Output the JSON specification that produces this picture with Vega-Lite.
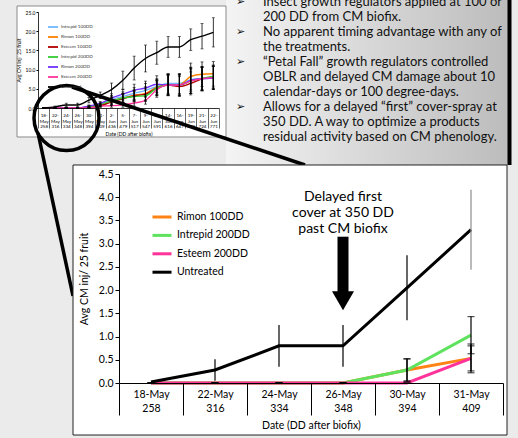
{
 "$schema": "https://vega.github.io/schema/vega-lite/v6.json",
 "autosize": {"type": "none"},
 "padding": {"left": 38, "top": 12, "right": 480, "bottom": 426},
 "background": "#ebebeb",
 "config": {
  "font": "Lato",
  "view": {"stroke": null},
  "axis": {"domainColor": "#000", "tickColor": "#000", "labelColor": "#000", "titleColor": "#000", "titleFontWeight": "normal", "grid": false, "labelFont": "Lato", "titleFont": "Lato"},
  "legend": {"labelFont": "Lato"}
 },
 "resolve": {"scale": {"color": "independent"}, "legend": {"color": "independent"}},
 "spacing": 162,
 "bounds": "flush",
 "vconcat": [
  {"spacing": 17, "bounds": "flush", "resolve": {"scale": {"color": "independent"}, "legend": {"color": "independent"}}, "hconcat": [
  {
   "width": 181, "height": 96,
   "resolve": {"scale": {"x": "independent"}},
   "layer": [
    {"data": {"values": [{}]},
     "mark": {"type": "rect", "fill": {"gradient": "linear", "x1": 0, "y1": 0, "x2": 1, "y2": 0, "stops": [{"offset": 0, "color": "#f4f4f4"}, {"offset": 1, "color": "#bcbcbc"}]}},
     "encoding": {"x": {"datum": 16.62, "type": "quantitative", "scale": {"domain": [0, 16], "nice": false, "zero": false}, "axis": null}, "x2": {"datum": 41.64},
                  "y": {"datum": 28.125, "type": "quantitative", "title": "Avg CM Inj/ 25 fruit", "scale": {"domain": [0, 25], "nice": false}, "axis": {"zindex": 2, "title": "Avg CM Inj/ 25 fruit", "values": [0, 5, 10, 15, 20, 25], "tickCount": 6, "format": ".1f", "labelOverlap": false, "labelFontSize": 5, "tickSize": 2, "labelPadding": 1, "titleFontSize": 5, "titlePadding": 4, "domainWidth": 0.8}}, "y2": {"datum": -14.84}}},
    {"data": {"values": [{}]},
     "mark": {"type": "rect", "fill": "#ffffff", "stroke": "#8a8a8a", "strokeWidth": 1},
     "encoding": {"x": {"datum": -1.856, "type": "quantitative", "scale": {"domain": [0, 16], "nice": false, "zero": false}, "axis": null}, "x2": {"datum": 16.62},
                  "y": {"datum": 26.56, "type": "quantitative", "title": "Avg CM Inj/ 25 fruit", "scale": {"domain": [0, 25], "nice": false}, "axis": {"zindex": 2, "title": "Avg CM Inj/ 25 fruit", "values": [0, 5, 10, 15, 20, 25], "tickCount": 6, "format": ".1f", "labelOverlap": false, "labelFontSize": 5, "tickSize": 2, "labelPadding": 1, "titleFontSize": 5, "titlePadding": 4, "domainWidth": 0.8}}, "y2": {"datum": -7.55}}},
    {"data": {"values": [
      {"d":"18-May 258","s":"Intrepid 100DD","v":0,"e":0},{"d":"22-May 316","s":"Intrepid 100DD","v":0,"e":0},{"d":"24-May 334","s":"Intrepid 100DD","v":0,"e":0},{"d":"26-May 348","s":"Intrepid 100DD","v":0,"e":0},{"d":"30-May 394","s":"Intrepid 100DD","v":0.3,"e":0.25},{"d":"31-May 409","s":"Intrepid 100DD","v":0.8,"e":0.4},{"d":"2-Jun 436","s":"Intrepid 100DD","v":2.2,"e":1.0},{"d":"5-Jun 479","s":"Intrepid 100DD","v":3.0,"e":1.2},{"d":"7-Jun 517","s":"Intrepid 100DD","v":3.8,"e":1.5},{"d":"9-Jun 547","s":"Intrepid 100DD","v":4.6,"e":1.8},{"d":"12-Jun 591","s":"Intrepid 100DD","v":5.6,"e":2.0},{"d":"14-Jun 616","s":"Intrepid 100DD","v":6.4,"e":2.6},{"d":"16-Jun 647","s":"Intrepid 100DD","v":6.4,"e":2.6},{"d":"19-Jun 690","s":"Intrepid 100DD","v":7.4,"e":3.2},{"d":"21-Jun 724","s":"Intrepid 100DD","v":7.7,"e":3.0},{"d":"22-Jun 771","s":"Intrepid 100DD","v":7.9,"e":3.0},
      {"d":"18-May 258","s":"Rimon 100DD","v":0,"e":0},{"d":"22-May 316","s":"Rimon 100DD","v":0,"e":0},{"d":"24-May 334","s":"Rimon 100DD","v":0,"e":0},{"d":"26-May 348","s":"Rimon 100DD","v":0,"e":0},{"d":"30-May 394","s":"Rimon 100DD","v":0.28,"e":0.24},{"d":"31-May 409","s":"Rimon 100DD","v":0.53,"e":0.27},{"d":"2-Jun 436","s":"Rimon 100DD","v":1.8,"e":1.0},{"d":"5-Jun 479","s":"Rimon 100DD","v":2.6,"e":1.2},{"d":"7-Jun 517","s":"Rimon 100DD","v":3.3,"e":1.4},{"d":"9-Jun 547","s":"Rimon 100DD","v":3.8,"e":1.7},{"d":"12-Jun 591","s":"Rimon 100DD","v":5.4,"e":2.0},{"d":"14-Jun 616","s":"Rimon 100DD","v":6.0,"e":2.8},{"d":"16-Jun 647","s":"Rimon 100DD","v":6.0,"e":2.8},{"d":"19-Jun 690","s":"Rimon 100DD","v":8.2,"e":3.5},{"d":"21-Jun 724","s":"Rimon 100DD","v":8.8,"e":3.2},{"d":"22-Jun 771","s":"Rimon 100DD","v":8.9,"e":3.2},
      {"d":"18-May 258","s":"Esteem 100DD","v":0,"e":0},{"d":"22-May 316","s":"Esteem 100DD","v":0,"e":0},{"d":"24-May 334","s":"Esteem 100DD","v":0,"e":0},{"d":"26-May 348","s":"Esteem 100DD","v":0,"e":0},{"d":"30-May 394","s":"Esteem 100DD","v":0.2,"e":0.2},{"d":"31-May 409","s":"Esteem 100DD","v":0.6,"e":0.3},{"d":"2-Jun 436","s":"Esteem 100DD","v":1.6,"e":0.9},{"d":"5-Jun 479","s":"Esteem 100DD","v":2.4,"e":1.1},{"d":"7-Jun 517","s":"Esteem 100DD","v":3.2,"e":1.4},{"d":"9-Jun 547","s":"Esteem 100DD","v":3.6,"e":1.6},{"d":"12-Jun 591","s":"Esteem 100DD","v":5.2,"e":2.0},{"d":"14-Jun 616","s":"Esteem 100DD","v":6.0,"e":2.6},{"d":"16-Jun 647","s":"Esteem 100DD","v":5.6,"e":2.6},{"d":"19-Jun 690","s":"Esteem 100DD","v":6.4,"e":3.0},{"d":"21-Jun 724","s":"Esteem 100DD","v":7.6,"e":3.0},{"d":"22-Jun 771","s":"Esteem 100DD","v":8.0,"e":3.0},
      {"d":"18-May 258","s":"Intrepid 200DD","v":0,"e":0},{"d":"22-May 316","s":"Intrepid 200DD","v":0,"e":0},{"d":"24-May 334","s":"Intrepid 200DD","v":0,"e":0},{"d":"26-May 348","s":"Intrepid 200DD","v":0,"e":0},{"d":"30-May 394","s":"Intrepid 200DD","v":0.28,"e":0.24},{"d":"31-May 409","s":"Intrepid 200DD","v":1.03,"e":0.4},{"d":"2-Jun 436","s":"Intrepid 200DD","v":1.8,"e":1.0},{"d":"5-Jun 479","s":"Intrepid 200DD","v":2.6,"e":1.2},{"d":"7-Jun 517","s":"Intrepid 200DD","v":3.0,"e":1.3},{"d":"9-Jun 547","s":"Intrepid 200DD","v":3.2,"e":1.5},{"d":"12-Jun 591","s":"Intrepid 200DD","v":5.2,"e":2.0},{"d":"14-Jun 616","s":"Intrepid 200DD","v":6.0,"e":2.6},{"d":"16-Jun 647","s":"Intrepid 200DD","v":6.0,"e":2.6},{"d":"19-Jun 690","s":"Intrepid 200DD","v":7.0,"e":3.2},{"d":"21-Jun 724","s":"Intrepid 200DD","v":7.7,"e":3.0},{"d":"22-Jun 771","s":"Intrepid 200DD","v":8.2,"e":3.0},
      {"d":"18-May 258","s":"Rimon 200DD","v":0,"e":0},{"d":"22-May 316","s":"Rimon 200DD","v":0,"e":0},{"d":"24-May 334","s":"Rimon 200DD","v":0,"e":0},{"d":"26-May 348","s":"Rimon 200DD","v":0,"e":0},{"d":"30-May 394","s":"Rimon 200DD","v":0.5,"e":0.3},{"d":"31-May 409","s":"Rimon 200DD","v":1.2,"e":0.5},{"d":"2-Jun 436","s":"Rimon 200DD","v":2.6,"e":1.1},{"d":"5-Jun 479","s":"Rimon 200DD","v":3.6,"e":1.3},{"d":"7-Jun 517","s":"Rimon 200DD","v":4.6,"e":1.6},{"d":"9-Jun 547","s":"Rimon 200DD","v":5.2,"e":1.8},{"d":"12-Jun 591","s":"Rimon 200DD","v":6.2,"e":2.2},{"d":"14-Jun 616","s":"Rimon 200DD","v":6.0,"e":2.8},{"d":"16-Jun 647","s":"Rimon 200DD","v":6.0,"e":2.8},{"d":"19-Jun 690","s":"Rimon 200DD","v":7.2,"e":3.4},{"d":"21-Jun 724","s":"Rimon 200DD","v":7.6,"e":3.2},{"d":"22-Jun 771","s":"Rimon 200DD","v":7.8,"e":3.0},
      {"d":"18-May 258","s":"Esteem 200DD","v":0,"e":0},{"d":"22-May 316","s":"Esteem 200DD","v":0,"e":0},{"d":"24-May 334","s":"Esteem 200DD","v":0,"e":0},{"d":"26-May 348","s":"Esteem 200DD","v":0,"e":0},{"d":"30-May 394","s":"Esteem 200DD","v":0,"e":0},{"d":"31-May 409","s":"Esteem 200DD","v":0.53,"e":0.31},{"d":"2-Jun 436","s":"Esteem 200DD","v":0.6,"e":0.4},{"d":"5-Jun 479","s":"Esteem 200DD","v":0.8,"e":0.6},{"d":"7-Jun 517","s":"Esteem 200DD","v":1.3,"e":0.8},{"d":"9-Jun 547","s":"Esteem 200DD","v":2.0,"e":1.0},{"d":"12-Jun 591","s":"Esteem 200DD","v":4.8,"e":2.0},{"d":"14-Jun 616","s":"Esteem 200DD","v":6.0,"e":2.6},{"d":"16-Jun 647","s":"Esteem 200DD","v":6.0,"e":2.6},{"d":"19-Jun 690","s":"Esteem 200DD","v":7.0,"e":3.2},{"d":"21-Jun 724","s":"Esteem 200DD","v":7.6,"e":3.0},{"d":"22-Jun 771","s":"Esteem 200DD","v":7.9,"e":3.0},
      {"d":"18-May 258","s":"Untreated","v":0.02,"e":0},{"d":"22-May 316","s":"Untreated","v":0.28,"e":0.23},{"d":"24-May 334","s":"Untreated","v":0.8,"e":0.45},{"d":"26-May 348","s":"Untreated","v":0.8,"e":0.45},{"d":"30-May 394","s":"Untreated","v":2.05,"e":0.7},{"d":"31-May 409","s":"Untreated","v":3.3,"e":0.86},{"d":"2-Jun 436","s":"Untreated","v":4.8,"e":1.7},{"d":"5-Jun 479","s":"Untreated","v":7.2,"e":2.4},{"d":"7-Jun 517","s":"Untreated","v":10.4,"e":3.1},{"d":"9-Jun 547","s":"Untreated","v":12.9,"e":3.5},{"d":"12-Jun 591","s":"Untreated","v":14.4,"e":3.0},{"d":"14-Jun 616","s":"Untreated","v":15.9,"e":2.7},{"d":"16-Jun 647","s":"Untreated","v":15.9,"e":2.7},{"d":"19-Jun 690","s":"Untreated","v":17.8,"e":2.8},{"d":"21-Jun 724","s":"Untreated","v":18.7,"e":3.3},{"d":"22-Jun 771","s":"Untreated","v":19.7,"e":3.8}
     ]},
     "layer": [
      {"mark": {"type": "line", "strokeWidth": 1.4, "interpolate": "monotone"},
       "encoding": {
        "x": {"field": "d", "type": "nominal", "sort": null, "bandPosition": 0.5, "title": "Date (DD after biofix)",
              "scale": {"type": "band", "paddingInner": 0, "paddingOuter": 0, "domain": ["18-May 258","22-May 316","24-May 334","26-May 348","30-May 394","31-May 409","2-Jun 436","5-Jun 479","7-Jun 517","9-Jun 547","12-Jun 591","14-Jun 616","16-Jun 647","19-Jun 690","21-Jun 724","22-Jun 771"]},
              "axis": {"zindex": 2, "title": "Date (DD after biofix)", "labelExpr": "split(replace(datum.label, '-', '- '), ' ')", "labelAngle": 0, "labelFontSize": 4.6, "labelLineHeight": 5.5, "labelOverlap": false, "tickBand": "extent", "tickSize": 20, "labelPadding": -15.5, "titleFontSize": 5, "titlePadding": 3, "tickWidth": 0.6, "domainWidth": 0.8}},
        "y": {"field": "v", "type": "quantitative", "title": "Avg CM Inj/ 25 fruit", "scale": {"domain": [0, 25], "nice": false},
              "axis": {"zindex": 2, "title": "Avg CM Inj/ 25 fruit", "values": [0, 5, 10, 15, 20, 25], "tickCount": 6, "format": ".1f", "labelOverlap": false, "labelFontSize": 5, "tickSize": 2, "labelPadding": 1, "titleFontSize": 5, "titlePadding": 4, "domainWidth": 0.8}},
        "color": {"field": "s", "type": "nominal",
                  "scale": {"domain": ["Intrepid 100DD","Rimon 100DD","Esteem 100DD","Intrepid 200DD","Rimon 200DD","Esteem 200DD","Untreated"], "range": ["#6fb8ff","#ff8000","#b00000","#33cc33","#7030ff","#ff3399","#000000"]},
                  "legend": {"zindex": 2, "title": null, "orient": "top-left", "offset": 9, "padding": 0, "symbolType": "stroke", "symbolSize": 100, "symbolStrokeWidth": 1.8, "labelFontSize": 4.6, "labelOffset": 2, "rowPadding": -3, "labelColor": "#333"}}
       }},
      {"mark": {"type": "errorbar", "ticks": true, "size": 3, "thickness": 0.8, "color": "#000"},
       "encoding": {
        "x": {"field": "d", "type": "nominal", "sort": null, "title": "Date (DD after biofix)", "scale": {"domain": ["18-May 258","22-May 316","24-May 334","26-May 348","30-May 394","31-May 409","2-Jun 436","5-Jun 479","7-Jun 517","9-Jun 547","12-Jun 591","14-Jun 616","16-Jun 647","19-Jun 690","21-Jun 724","22-Jun 771"]}},
        "y": {"field": "v", "type": "quantitative", "title": "Avg CM Inj/ 25 fruit", "scale": {"domain": [0, 25], "nice": false}, "axis": {"zindex": 2, "title": "Avg CM Inj/ 25 fruit", "values": [0, 5, 10, 15, 20, 25], "tickCount": 6, "format": ".1f", "labelOverlap": false, "labelFontSize": 5, "tickSize": 2, "labelPadding": 1, "titleFontSize": 5, "titlePadding": 4, "domainWidth": 0.8}},
        "yError": {"field": "e"}
       }}
     ]},
    {"data": {"values": [{}]},
     "mark": {"type": "point", "shape": "circle", "filled": false, "color": "#000", "strokeWidth": 3.5, "size": 4225, "opacity": 1},
     "encoding": {"x": {"datum": 2.52, "type": "quantitative", "scale": {"domain": [0, 16], "nice": false, "zero": false}, "axis": null},
                  "y": {"datum": -2.6, "type": "quantitative", "title": "Avg CM Inj/ 25 fruit", "scale": {"domain": [0, 25], "nice": false}, "axis": {"zindex": 2, "title": "Avg CM Inj/ 25 fruit", "values": [0, 5, 10, 15, 20, 25], "tickCount": 6, "format": ".1f", "labelOverlap": false, "labelFontSize": 5, "tickSize": 2, "labelPadding": 1, "titleFontSize": 5, "titlePadding": 4, "domainWidth": 0.8}}}},
    {"data": {"values": [{}]},
     "mark": {"type": "rule", "color": "#000", "strokeWidth": 3.5},
     "encoding": {"x": {"datum": 3.006, "type": "quantitative", "scale": {"domain": [0, 16], "nice": false, "zero": false}, "axis": null}, "x2": {"datum": 23.6},
                  "y": {"datum": 5.47, "type": "quantitative", "title": "Avg CM Inj/ 25 fruit", "scale": {"domain": [0, 25], "nice": false}, "axis": {"zindex": 2, "title": "Avg CM Inj/ 25 fruit", "values": [0, 5, 10, 15, 20, 25], "tickCount": 6, "format": ".1f", "labelOverlap": false, "labelFontSize": 5, "tickSize": 2, "labelPadding": 1, "titleFontSize": 5, "titlePadding": 4, "domainWidth": 0.8}}, "y2": {"datum": -14.84}}},
    {"data": {"values": [{}]},
     "mark": {"type": "rule", "color": "#000", "strokeWidth": 3.5},
     "encoding": {"x": {"datum": 0, "type": "quantitative", "scale": {"domain": [0, 16], "nice": false, "zero": false}, "axis": null}, "x2": {"datum": 3.094},
                  "y": {"datum": -6.51, "type": "quantitative", "title": "Avg CM Inj/ 25 fruit", "scale": {"domain": [0, 25], "nice": false}, "axis": {"zindex": 2, "title": "Avg CM Inj/ 25 fruit", "values": [0, 5, 10, 15, 20, 25], "tickCount": 6, "format": ".1f", "labelOverlap": false, "labelFontSize": 5, "tickSize": 2, "labelPadding": 1, "titleFontSize": 5, "titlePadding": 4, "domainWidth": 0.8}}, "y2": {"datum": -48.96}}},
    {"data": {"values": [{}]},
     "mark": {"type": "rule", "color": "#000", "strokeWidth": 4},
     "encoding": {"x": {"datum": 41.68, "type": "quantitative", "scale": {"domain": [0, 16], "nice": false, "zero": false}, "axis": null},
                  "y": {"datum": 28.125, "type": "quantitative", "title": "Avg CM Inj/ 25 fruit", "scale": {"domain": [0, 25], "nice": false}, "axis": {"zindex": 2, "title": "Avg CM Inj/ 25 fruit", "values": [0, 5, 10, 15, 20, 25], "tickCount": 6, "format": ".1f", "labelOverlap": false, "labelFontSize": 5, "tickSize": 2, "labelPadding": 1, "titleFontSize": 5, "titlePadding": 4, "domainWidth": 0.8}}, "y2": {"datum": -14.84}}}
   ]
  },
  {
   "width": 27, "height": 96,
   "data": {"values": [
    {"line": 0, "kind": "bullet", "t": "➢"},
    {"line": 0, "kind": "text", "t": "Insect growth regulators applied at 100 or"},
    {"line": 1, "kind": "text", "t": "200 DD from CM biofix."},
    {"line": 2, "kind": "bullet", "t": "➢"},
    {"line": 2, "kind": "text", "t": "No apparent timing advantage with any of"},
    {"line": 3, "kind": "text", "t": "the treatments."},
    {"line": 4, "kind": "bullet", "t": "➢"},
    {"line": 4, "kind": "text", "t": "“Petal Fall” growth regulators controlled"},
    {"line": 5, "kind": "text", "t": "OBLR and delayed CM damage about 10"},
    {"line": 6, "kind": "text", "t": "calendar-days or 100 degree-days."},
    {"line": 7, "kind": "bullet", "t": "➢"},
    {"line": 7, "kind": "text", "t": "Allows for a delayed “first” cover-spray at"},
    {"line": 8, "kind": "text", "t": "350 DD.  A way to optimize a products"},
    {"line": 9, "kind": "text", "t": "residual activity based on CM phenology."}
   ]},
   "encoding": {
    "x": {"field": "kind", "type": "nominal", "scale": {"type": "point", "domain": ["bullet", "text"], "padding": 0}, "axis": null},
    "y": {"field": "line", "type": "quantitative", "scale": {"domain": [0.695, 7.053], "reverse": true, "nice": false, "zero": false}, "axis": null},
    "text": {"field": "t"}
   },
   "layer": [
    {"transform": [{"filter": "datum.kind === 'bullet'"}],
     "mark": {"type": "text", "align": "left", "baseline": "middle", "font": "DejaVu Sans", "fontSize": 11, "color": "#111"}},
    {"transform": [{"filter": "datum.kind === 'text'"}],
     "mark": {"type": "text", "align": "left", "baseline": "middle", "fontSize": 13, "color": "#111"}}
   ]
  }
  ]},
  {"spacing": 17, "bounds": "flush", "resolve": {"scale": {"color": "independent"}, "legend": {"color": "independent"}}, "hconcat": [
  {
   "width": 64, "height": 209,
   "data": {"values": [{}]},
   "mark": {"type": "text", "text": ""}
  },
  {
   "width": 384, "height": 209,
   "resolve": {"scale": {"x": "independent"}},
   "layer": [
    {"data": {"values": [{}]},
     "mark": {"type": "rect", "fill": "#ffffff", "stroke": "#222222", "strokeWidth": 1},
     "encoding": {"x": {"datum": -0.71875, "type": "quantitative", "scale": {"domain": [0, 6], "nice": false, "zero": false}, "axis": null}, "x2": {"datum": 6.0625},
                  "y": {"datum": 4.694, "type": "quantitative", "title": "Avg CM inj/ 25 fruit", "scale": {"domain": [0, 4.5], "nice": false}, "axis": {"zindex": 2, "title": "Avg CM inj/ 25 fruit", "values": [0, 0.5, 1, 1.5, 2, 2.5, 3, 3.5, 4, 4.5], "tickCount": 10, "format": ".1f", "labelOverlap": false, "labelFlush": false, "tickSize": 4, "labelPadding": 2, "labelFontSize": 10.5, "titleFontSize": 10.5, "titlePadding": 9}}, "y2": {"datum": -1.12}}},
    {"data": {"values": [
      {"d":"18-May 258","s":"Rimon 100DD","v":0,"e":0},{"d":"22-May 316","s":"Rimon 100DD","v":0,"e":0},{"d":"24-May 334","s":"Rimon 100DD","v":0,"e":0},{"d":"26-May 348","s":"Rimon 100DD","v":0,"e":0},{"d":"30-May 394","s":"Rimon 100DD","v":0.28,"e":0.24},{"d":"31-May 409","s":"Rimon 100DD","v":0.53,"e":0.27},
      {"d":"18-May 258","s":"Intrepid 200DD","v":0,"e":0},{"d":"22-May 316","s":"Intrepid 200DD","v":0,"e":0},{"d":"24-May 334","s":"Intrepid 200DD","v":0,"e":0},{"d":"26-May 348","s":"Intrepid 200DD","v":0,"e":0},{"d":"30-May 394","s":"Intrepid 200DD","v":0.28,"e":0.24},{"d":"31-May 409","s":"Intrepid 200DD","v":1.03,"e":0.4},
      {"d":"18-May 258","s":"Esteem 200DD","v":0,"e":0},{"d":"22-May 316","s":"Esteem 200DD","v":0,"e":0},{"d":"24-May 334","s":"Esteem 200DD","v":0,"e":0},{"d":"26-May 348","s":"Esteem 200DD","v":0,"e":0},{"d":"30-May 394","s":"Esteem 200DD","v":0,"e":0},{"d":"31-May 409","s":"Esteem 200DD","v":0.53,"e":0.31},
      {"d":"18-May 258","s":"Untreated","v":0.02,"e":0},{"d":"22-May 316","s":"Untreated","v":0.28,"e":0.23},{"d":"24-May 334","s":"Untreated","v":0.8,"e":0.45},{"d":"26-May 348","s":"Untreated","v":0.8,"e":0.45},{"d":"30-May 394","s":"Untreated","v":2.05,"e":0.7},{"d":"31-May 409","s":"Untreated","v":3.3,"e":0.86}
     ]},
     "layer": [
      {"mark": {"type": "line", "strokeWidth": 3},
       "encoding": {
        "x": {"field": "d", "type": "nominal", "sort": null, "bandPosition": 0.5, "title": "Date (DD after biofix)",
              "scale": {"type": "band", "paddingInner": 0, "paddingOuter": 0, "domain": ["18-May 258","22-May 316","24-May 334","26-May 348","30-May 394","31-May 409"]},
              "axis": {"zindex": 2, "title": "Date (DD after biofix)", "labelExpr": "split(datum.label, ' ')", "labelAngle": 0, "labelFontSize": 10.5, "labelLineHeight": 14, "labelOverlap": false, "tickBand": "extent", "tickSize": 32, "labelPadding": -26, "titleFontSize": 10.5, "titlePadding": 5}},
        "y": {"field": "v", "type": "quantitative", "title": "Avg CM inj/ 25 fruit", "scale": {"domain": [0, 4.5], "nice": false},
              "axis": {"zindex": 2, "title": "Avg CM inj/ 25 fruit", "values": [0, 0.5, 1, 1.5, 2, 2.5, 3, 3.5, 4, 4.5], "tickCount": 10, "format": ".1f", "labelOverlap": false, "labelFlush": false, "tickSize": 4, "labelPadding": 2, "labelFontSize": 10.5, "titleFontSize": 10.5, "titlePadding": 9}},
        "color": {"field": "s", "type": "nominal",
                  "scale": {"domain": ["Rimon 100DD", "Intrepid 200DD", "Esteem 200DD", "Untreated"], "range": ["#ff8214", "#5fe35f", "#ff3399", "#000000"]},
                  "legend": {"zindex": 2, "title": null, "orient": "top-left", "offset": 32, "padding": 0, "symbolType": "stroke", "symbolSize": 361, "symbolStrokeWidth": 3, "labelFontSize": 10.5, "labelOffset": 4, "rowPadding": 1.4, "labelColor": "#000"}}
       }},
      {"transform": [{"filter": "datum.s === 'Untreated' && datum.d !== '31-May 409'"}],
       "mark": {"type": "errorbar", "ticks": false, "thickness": 1.2, "color": "#000"},
       "encoding": {
        "x": {"field": "d", "type": "nominal", "sort": null, "title": "Date (DD after biofix)", "scale": {"domain": ["18-May 258","22-May 316","24-May 334","26-May 348","30-May 394","31-May 409"]}},
        "y": {"field": "v", "type": "quantitative", "title": "Avg CM inj/ 25 fruit", "scale": {"domain": [0, 4.5], "nice": false}, "axis": {"zindex": 2, "title": "Avg CM inj/ 25 fruit", "values": [0, 0.5, 1, 1.5, 2, 2.5, 3, 3.5, 4, 4.5], "tickCount": 10, "format": ".1f", "labelOverlap": false, "labelFlush": false, "tickSize": 4, "labelPadding": 2, "labelFontSize": 10.5, "titleFontSize": 10.5, "titlePadding": 9}},
        "yError": {"field": "e"}
       }},
      {"transform": [{"filter": "datum.s === 'Untreated' && datum.d === '31-May 409'"}],
       "mark": {"type": "errorbar", "ticks": false, "thickness": 1.2, "color": "#8c8c8c"},
       "encoding": {
        "x": {"field": "d", "type": "nominal", "sort": null, "title": "Date (DD after biofix)", "scale": {"domain": ["18-May 258","22-May 316","24-May 334","26-May 348","30-May 394","31-May 409"]}},
        "y": {"field": "v", "type": "quantitative", "title": "Avg CM inj/ 25 fruit", "scale": {"domain": [0, 4.5], "nice": false}, "axis": {"zindex": 2, "title": "Avg CM inj/ 25 fruit", "values": [0, 0.5, 1, 1.5, 2, 2.5, 3, 3.5, 4, 4.5], "tickCount": 10, "format": ".1f", "labelOverlap": false, "labelFlush": false, "tickSize": 4, "labelPadding": 2, "labelFontSize": 10.5, "titleFontSize": 10.5, "titlePadding": 9}},
        "yError": {"field": "e"}
       }},
      {"transform": [{"filter": "datum.s !== 'Untreated'"}],
       "mark": {"type": "errorbar", "ticks": true, "size": 7, "thickness": 1.2, "color": "#000"},
       "encoding": {
        "x": {"field": "d", "type": "nominal", "sort": null, "title": "Date (DD after biofix)", "scale": {"domain": ["18-May 258","22-May 316","24-May 334","26-May 348","30-May 394","31-May 409"]}},
        "y": {"field": "v", "type": "quantitative", "title": "Avg CM inj/ 25 fruit", "scale": {"domain": [0, 4.5], "nice": false}, "axis": {"zindex": 2, "title": "Avg CM inj/ 25 fruit", "values": [0, 0.5, 1, 1.5, 2, 2.5, 3, 3.5, 4, 4.5], "tickCount": 10, "format": ".1f", "labelOverlap": false, "labelFlush": false, "tickSize": 4, "labelPadding": 2, "labelFontSize": 10.5, "titleFontSize": 10.5, "titlePadding": 9}},
        "yError": {"field": "e"}
       }},
      {"data": {"values": [{}]},
       "mark": {"type": "text", "text": ["Delayed first", "cover at 350 DD", "past CM biofix"], "fontSize": 14, "lineHeight": 16, "align": "center", "baseline": "middle", "color": "#000"},
       "encoding": {
        "x": {"datum": "26-May 348", "type": "nominal", "title": "Date (DD after biofix)", "scale": {"domain": ["18-May 258","22-May 316","24-May 334","26-May 348","30-May 394","31-May 409"]}},
        "y": {"datum": 4.01, "type": "quantitative", "title": "Avg CM inj/ 25 fruit", "scale": {"domain": [0, 4.5], "nice": false}, "axis": {"zindex": 2, "title": "Avg CM inj/ 25 fruit", "values": [0, 0.5, 1, 1.5, 2, 2.5, 3, 3.5, 4, 4.5], "tickCount": 10, "format": ".1f", "labelOverlap": false, "labelFlush": false, "tickSize": 4, "labelPadding": 2, "labelFontSize": 10.5, "titleFontSize": 10.5, "titlePadding": 9}}
       }},
      {"data": {"values": [{}]},
       "mark": {"type": "rule", "strokeWidth": 11, "color": "#000"},
       "encoding": {
        "x": {"datum": "26-May 348", "type": "nominal", "title": "Date (DD after biofix)", "scale": {"domain": ["18-May 258","22-May 316","24-May 334","26-May 348","30-May 394","31-May 409"]}},
        "y": {"datum": 3.15, "type": "quantitative", "title": "Avg CM inj/ 25 fruit", "scale": {"domain": [0, 4.5], "nice": false}, "axis": {"zindex": 2, "title": "Avg CM inj/ 25 fruit", "values": [0, 0.5, 1, 1.5, 2, 2.5, 3, 3.5, 4, 4.5], "tickCount": 10, "format": ".1f", "labelOverlap": false, "labelFlush": false, "tickSize": 4, "labelPadding": 2, "labelFontSize": 10.5, "titleFontSize": 10.5, "titlePadding": 9}},
        "y2": {"datum": 1.93}
       }},
      {"data": {"values": [{}]},
       "mark": {"type": "point", "shape": "triangle-down", "filled": true, "size": 484, "color": "#000", "opacity": 1},
       "encoding": {
        "x": {"datum": "26-May 348", "type": "nominal", "title": "Date (DD after biofix)", "scale": {"domain": ["18-May 258","22-May 316","24-May 334","26-May 348","30-May 394","31-May 409"]}},
        "y": {"datum": 1.77, "type": "quantitative", "title": "Avg CM inj/ 25 fruit", "scale": {"domain": [0, 4.5], "nice": false}, "axis": {"zindex": 2, "title": "Avg CM inj/ 25 fruit", "values": [0, 0.5, 1, 1.5, 2, 2.5, 3, 3.5, 4, 4.5], "tickCount": 10, "format": ".1f", "labelOverlap": false, "labelFlush": false, "tickSize": 4, "labelPadding": 2, "labelFontSize": 10.5, "titleFontSize": 10.5, "titlePadding": 9}}
       }}
     ]}
   ]
  }
  ]}
 ]
}
